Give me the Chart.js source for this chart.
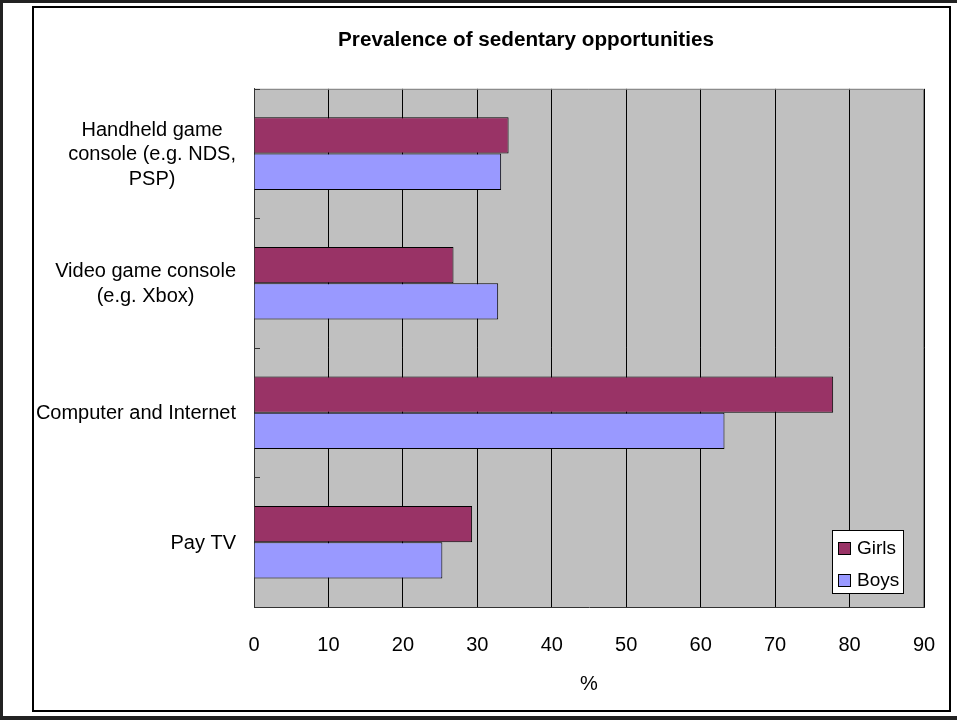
<!DOCTYPE html>
<html lang="en">
<head>
<meta charset="utf-8" />
<title>Prevalence of sedentary opportunities</title>
<script src="https://cdn.jsdelivr.net/npm/chart.js@4.4.1/dist/chart.umd.min.js"></script>
<style>
	html, body { margin: 0; padding: 0; background: #fff; }
	#frame { position: absolute; left: 0; top: 0; width: 957px; height: 720px; box-sizing: border-box;
		border-top: 3px solid #222; border-left: 3px solid #222; border-bottom: 4px solid #222; }
	#box { position: absolute; left: 32px; top: 6px; width: 919px; height: 706px; box-sizing: border-box; border: 2px solid #000; }
	#wrap { position: absolute; left: 34px; top: 8px; width: 915px; height: 702px; }
</style>
</head>
<body>
<div id="frame"></div>
<div id="box"></div>
<div id="wrap"><canvas id="chart"></canvas></div>
<script>
	// data
	const categories = [
		["Handheld game", "console (e.g. NDS,", "PSP)"],
		["Video game console", "(e.g. Xbox)"],
		["Computer and Internet"],
		["Pay TV"],
	];
	const girls = [34.2, 26.8, 77.8, 29.3];
	const boys = [33.2, 32.8, 63.2, 25.3];
	const xMin = 0;
	const xMax = 90;
	const xStep = 10;

	const FONT = '"Liberation Sans", Arial, sans-serif';

	// gray plot area + frame
	const plotArea = {
		id: "plotArea",
		beforeDraw(chart) {
			const { ctx, chartArea: a } = chart;
			ctx.save();
			ctx.fillStyle = "#C0C0C0";
			ctx.fillRect(a.left, a.top, a.right - a.left, a.bottom - a.top);
			ctx.restore();
		},
		afterDraw(chart) {
			const { ctx, chartArea: a } = chart;
			ctx.save();
			ctx.strokeStyle = "#808080";
			ctx.lineWidth = 1;
			ctx.beginPath();
			ctx.moveTo(a.left, a.top + 0.5);
			ctx.lineTo(a.right - 0.5, a.top + 0.5);
			ctx.lineTo(a.right - 0.5, a.bottom);
			ctx.stroke();
			ctx.restore();
		},
	};

	// category labels: right-aligned block, lines centred inside it
	const yLabels = {
		id: "yLabels",
		afterDraw(chart) {
			const { ctx, chartArea: a } = chart;
			const y = chart.scales.y;
			ctx.save();
			ctx.font = "20px " + FONT;
			ctx.fillStyle = "#000";
			ctx.textAlign = "center";
			ctx.textBaseline = "middle";
			const right = a.left - 18;
			chart.data.labels.forEach((lines, i) => {
				const w = Math.max(...lines.map((l) => ctx.measureText(l).width));
				const cx = right - w / 2;
				const cy = y.getPixelForTick(i) + 1;
				lines.forEach((line, j) => {
					ctx.fillText(line, cx, cy + (j - (lines.length - 1) / 2) * 24.5);
				});
			});
			// small inward tick marks between categories
			ctx.strokeStyle = "#333";
			ctx.lineWidth = 1;
			ctx.beginPath();
			for (let i = 0; i < chart.data.labels.length; i++) {
				const p = i === 0 ? a.top : (y.getPixelForTick(i - 1) + y.getPixelForTick(i)) / 2;
				const py = Math.round(p) + 0.5;
				ctx.moveTo(a.left, py);
				ctx.lineTo(a.left + 6, py);
			}
			ctx.stroke();
			ctx.restore();
		},
	};

	// legend box inside the plot, bottom right
	const boxLegend = {
		id: "boxLegend",
		afterDraw(chart) {
			const { ctx, chartArea: a } = chart;
			const w = 72, h = 64;
			const left = a.right - 20 - w;
			const top = a.bottom - 13 - h;
			ctx.save();
			ctx.fillStyle = "#fff";
			ctx.fillRect(left, top, w, h);
			ctx.strokeStyle = "#000";
			ctx.lineWidth = 1;
			ctx.strokeRect(left + 0.5, top + 0.5, w - 1, h - 1);
			ctx.font = "19px " + FONT;
			ctx.textBaseline = "middle";
			ctx.textAlign = "left";
			chart.data.datasets.forEach((ds, i) => {
				const cy = top + 18 + i * 32;
				ctx.fillStyle = ds.backgroundColor;
				ctx.fillRect(left + 6, cy - 6, 13, 13);
				ctx.strokeRect(left + 6.5, cy - 5.5, 12, 12);
				ctx.fillStyle = "#000";
				ctx.fillText(ds.label, left + 25, cy + 1);
			});
			ctx.restore();
		},
	};

	new Chart(document.getElementById("chart"), {
		type: "bar",
		data: {
			labels: categories,
			datasets: [
				{ label: "Girls", data: girls, backgroundColor: "#993366", borderColor: "#000", borderWidth: 1 },
				{ label: "Boys", data: boys, backgroundColor: "#9999FF", borderColor: "#000", borderWidth: 1 },
			],
		},
		options: {
			indexAxis: "y",
			responsive: true,
			maintainAspectRatio: false,
			animation: false,
			layout: { padding: { left: 94, right: 25, top: 0, bottom: 0 } },
			datasets: { bar: { categoryPercentage: 0.56, barPercentage: 1 } },
			plugins: {
				legend: { display: false },
				tooltip: { enabled: false },
				title: {
					display: true,
					text: "Prevalence of sedentary opportunities",
					color: "#000",
					font: { family: FONT, size: 20.7, weight: "bold", lineHeight: 1.2 },
					padding: { top: 20, bottom: 36 },
				},
			},
			scales: {
				x: {
					min: xMin,
					max: xMax,
					ticks: { stepSize: xStep, color: "#000", padding: 3, font: { family: FONT, size: 20 } },
					grid: { color: "#000", lineWidth: 1, drawTicks: true, tickLength: 23, tickColor: "rgba(0,0,0,0)" },
					border: { color: "#333", width: 1 },
					title: { display: true, text: "%", color: "#000", padding: { top: 0, bottom: 14 }, font: { family: FONT, size: 20 } },
					afterFit(scale) { scale.height = 103; },
				},
				y: {
					ticks: { display: false },
					grid: { display: false, drawTicks: false },
					border: { color: "#333", width: 1 },
					afterFit(scale) { scale.width = 126; },
				},
			},
		},
		plugins: [plotArea, yLabels, boxLegend],
	});
</script>
</body>
</html>
